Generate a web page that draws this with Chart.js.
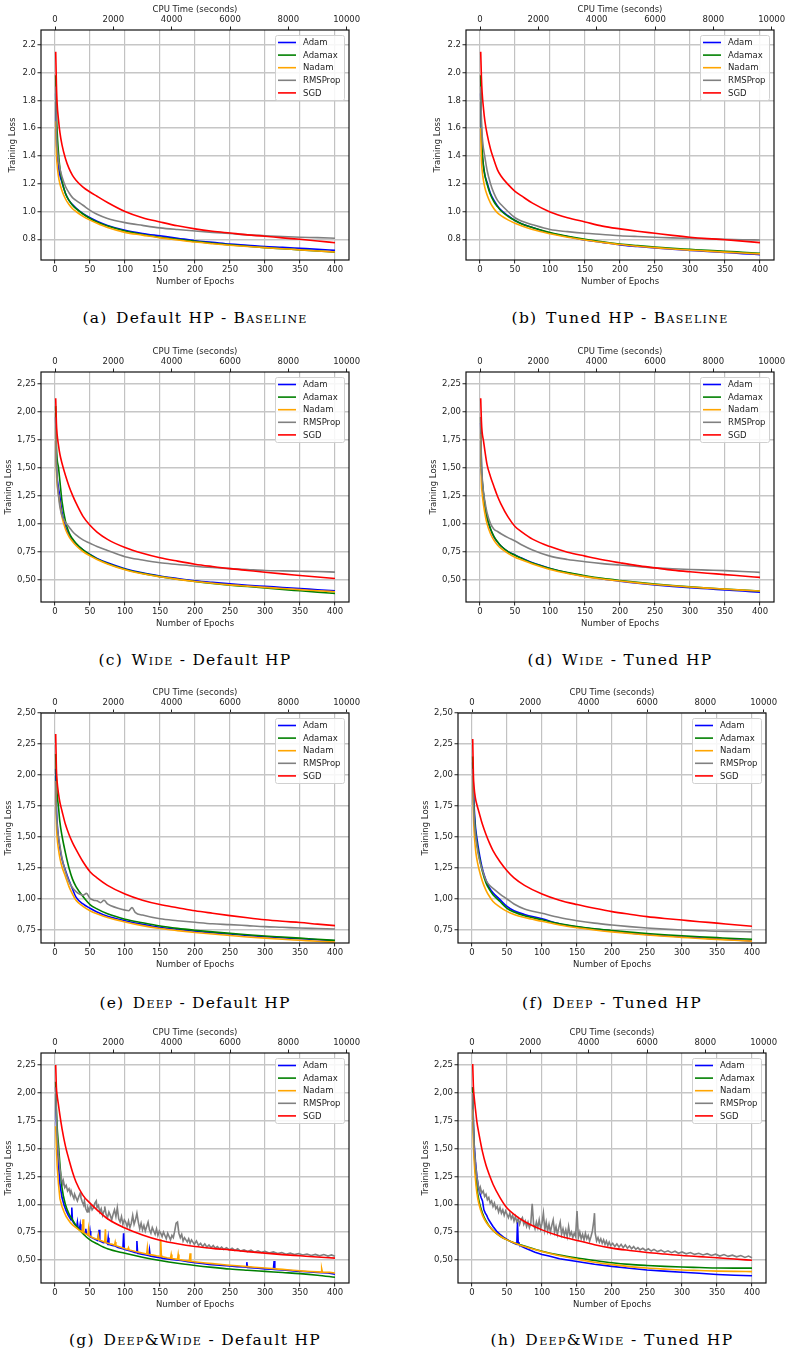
<!DOCTYPE html>
<html>
<head>
<meta charset="utf-8">
<title>Training loss per optimizer</title>
<script src="https://cdn.jsdelivr.net/npm/chart.js@4.4.1/dist/chart.umd.min.js"></script>
<style>
  html, body { margin: 0; padding: 0; background: #fff; }
  #page { position: relative; width: 787px; height: 1353px; overflow: hidden; background: #fff; }
  #page canvas { position: absolute; }
  .caption {
    position: absolute; white-space: nowrap; color: #000;
    font-family: "DejaVu Serif", "Liberation Serif", serif; font-size: 15.5px; line-height: 20px;
    transform: translateX(-50%);
  }
  .caption .lab { margin-right: 0.55em; }
  .caption .sc { font-variant: small-caps; }
</style>
</head>
<body>
<div id="page"></div>
<script>
// ---------- shared axes ----------
const EPOCHS = [1,2,3,5,7,10,15,20,25,30,40,50,60,75,100,125,150,175,200,225,250,275,300,325,350,375,400];
const EPOCH_TICKS = [0,50,100,150,200,250,300,350,400];
const CPU_TICKS = [0,2000,4000,6000,8000,10000];
const CPU_SECONDS_PER_EPOCH = 24;
const SERIES_NAMES = ['Adam','Adamax','Nadam','RMSProp','SGD'];
const SERIES_COLORS = ['#0000ff','#008000','#ffa500','#808080','#ff0000'];
const Y_LABELS_BASELINE = ['0.8','1.0','1.2','1.4','1.6','1.8','2.0','2.2'];
const Y_LABELS_WIDE = ['0,50','0,75','1,00','1,25','1,50','1,75','2,00','2,25'];
const Y_LABELS_DEEP = ['0,75','1,00','1,25','1,50','1,75','2,00','2,25','2,50'];

// ---------- (a) Default HP - Baseline ----------
const A_ADAM    = [1.85,1.52,1.42,1.32,1.26,1.21,1.13,1.08,1.05,1.025,0.985,0.955,0.93,0.90,0.865,0.842,0.825,0.808,0.79,0.778,0.765,0.757,0.748,0.742,0.735,0.728,0.72];
const A_ADAMAX  = [1.98,1.72,1.58,1.42,1.31,1.22,1.13,1.08,1.045,1.02,0.982,0.95,0.925,0.895,0.86,0.835,0.815,0.80,0.785,0.772,0.76,0.75,0.74,0.732,0.724,0.716,0.708];
const A_NADAM   = [1.65,1.42,1.34,1.25,1.20,1.15,1.09,1.05,1.02,1.00,0.965,0.938,0.915,0.885,0.85,0.83,0.81,0.795,0.78,0.768,0.757,0.748,0.74,0.732,0.724,0.716,0.709];
const A_RMSPROP = [1.90,1.58,1.47,1.37,1.31,1.25,1.18,1.135,1.10,1.08,1.045,1.008,0.98,0.95,0.92,0.90,0.882,0.87,0.86,0.85,0.842,0.832,0.826,0.82,0.815,0.812,0.808];
const A_SGD     = [2.15,1.92,1.78,1.66,1.57,1.48,1.38,1.31,1.26,1.225,1.175,1.14,1.11,1.065,1.00,0.955,0.925,0.897,0.875,0.858,0.845,0.832,0.822,0.81,0.80,0.788,0.775];

// ---------- (b) Tuned HP - Baseline ----------
const B_ADAM    = [1.85,1.55,1.42,1.32,1.26,1.21,1.13,1.08,1.04,1.01,0.97,0.935,0.91,0.885,0.845,0.82,0.795,0.778,0.76,0.748,0.737,0.728,0.72,0.712,0.705,0.697,0.69];
const B_ADAMAX  = [1.98,1.60,1.45,1.33,1.26,1.20,1.12,1.07,1.035,1.005,0.965,0.935,0.91,0.885,0.848,0.822,0.80,0.782,0.766,0.755,0.745,0.736,0.728,0.72,0.714,0.707,0.70];
const B_NADAM   = [1.60,1.38,1.30,1.22,1.17,1.12,1.06,1.02,0.99,0.97,0.94,0.915,0.895,0.87,0.84,0.815,0.795,0.778,0.762,0.75,0.74,0.73,0.722,0.715,0.708,0.701,0.695];
const B_RMSPROP = [1.90,1.65,1.55,1.45,1.39,1.30,1.20,1.13,1.08,1.05,1.00,0.955,0.93,0.905,0.87,0.855,0.843,0.835,0.826,0.82,0.815,0.81,0.807,0.804,0.80,0.797,0.795];
const B_SGD     = [2.15,1.97,1.86,1.74,1.65,1.56,1.45,1.37,1.30,1.255,1.195,1.145,1.11,1.06,0.997,0.955,0.925,0.895,0.875,0.858,0.843,0.828,0.815,0.805,0.797,0.787,0.776];

// ---------- (c) Wide - Default HP ----------
const C_ADAM    = [1.95,1.55,1.42,1.32,1.24,1.10,0.97,0.90,0.855,0.82,0.765,0.725,0.69,0.65,0.598,0.56,0.532,0.51,0.49,0.475,0.462,0.45,0.44,0.43,0.42,0.41,0.40];
const C_ADAMAX  = [2.05,1.70,1.58,1.50,1.38,1.20,1.02,0.92,0.865,0.825,0.765,0.722,0.685,0.645,0.593,0.556,0.527,0.503,0.483,0.466,0.451,0.438,0.425,0.412,0.40,0.388,0.377];
const C_NADAM   = [1.85,1.48,1.36,1.26,1.18,1.06,0.95,0.885,0.84,0.805,0.75,0.712,0.68,0.64,0.588,0.552,0.525,0.502,0.483,0.467,0.453,0.442,0.431,0.421,0.411,0.401,0.392];
const C_RMSPROP = [1.95,1.55,1.40,1.25,1.15,1.07,1.01,0.97,0.93,0.90,0.855,0.825,0.795,0.76,0.705,0.675,0.65,0.635,0.62,0.608,0.598,0.59,0.582,0.578,0.575,0.572,0.567];
const C_SGD     = [2.12,1.90,1.80,1.70,1.62,1.54,1.43,1.335,1.255,1.185,1.065,0.985,0.925,0.86,0.787,0.735,0.695,0.665,0.638,0.617,0.598,0.582,0.566,0.551,0.537,0.523,0.51];

// ---------- (d) Wide - Tuned HP ----------
const D_ADAM    = [1.90,1.50,1.38,1.26,1.16,1.05,0.95,0.88,0.835,0.80,0.75,0.72,0.69,0.65,0.60,0.56,0.53,0.505,0.485,0.468,0.453,0.44,0.428,0.418,0.408,0.398,0.388];
const D_ADAMAX  = [1.95,1.52,1.40,1.27,1.17,1.06,0.955,0.885,0.838,0.80,0.75,0.718,0.688,0.648,0.60,0.563,0.535,0.511,0.492,0.475,0.46,0.447,0.435,0.425,0.416,0.407,0.398];
const D_NADAM   = [1.80,1.38,1.28,1.17,1.09,1.00,0.91,0.85,0.81,0.78,0.735,0.70,0.675,0.64,0.59,0.555,0.527,0.505,0.487,0.471,0.457,0.445,0.434,0.424,0.415,0.406,0.398];
const D_RMSPROP = [1.95,1.55,1.42,1.28,1.20,1.10,1.00,0.95,0.93,0.91,0.875,0.845,0.81,0.765,0.71,0.68,0.66,0.643,0.63,0.617,0.605,0.597,0.59,0.585,0.58,0.573,0.565];
const D_SGD     = [2.12,1.92,1.82,1.74,1.65,1.53,1.42,1.33,1.245,1.175,1.06,0.975,0.925,0.862,0.795,0.745,0.71,0.677,0.65,0.625,0.605,0.585,0.57,0.557,0.545,0.532,0.52];

// ---------- (e) Deep - Default HP ----------
const E_ADAM    = [2.05,1.75,1.62,1.49,1.41,1.32,1.23,1.15,1.08,1.015,0.96,0.925,0.895,0.86,0.825,0.795,0.77,0.755,0.74,0.728,0.717,0.706,0.696,0.687,0.679,0.671,0.663];
const E_ADAMAX  = [2.17,1.95,1.85,1.74,1.62,1.51,1.37,1.25,1.16,1.10,1.02,0.955,0.92,0.88,0.837,0.808,0.782,0.763,0.748,0.735,0.723,0.712,0.702,0.693,0.684,0.675,0.666];
const E_NADAM   = [1.95,1.62,1.50,1.40,1.33,1.26,1.18,1.10,1.04,0.99,0.94,0.905,0.88,0.85,0.815,0.785,0.762,0.745,0.73,0.717,0.705,0.694,0.684,0.675,0.667,0.659,0.652];
const E_RMSPROP_EPOCHS = [1,2,3,5,7,10,15,20,25,30,35,40,45,50,55,60,65,70,75,80,90,100,105,110,115,125,150,175,200,225,250,275,300,325,350,375,400];
const E_RMSPROP = [1.95,1.70,1.60,1.50,1.43,1.33,1.22,1.14,1.09,1.06,1.04,1.03,1.045,1.005,0.99,0.985,0.97,0.99,0.96,0.945,0.925,0.91,0.905,0.93,0.89,0.87,0.84,0.825,0.812,0.80,0.793,0.785,0.777,0.772,0.766,0.762,0.758];
const E_SGD     = [2.33,2.05,1.95,1.85,1.78,1.71,1.60,1.52,1.455,1.40,1.30,1.22,1.17,1.11,1.04,0.99,0.955,0.93,0.905,0.885,0.866,0.848,0.832,0.82,0.81,0.797,0.785];

// ---------- (f) Deep - Tuned HP ----------
const F_ADAM    = [2.10,1.90,1.75,1.58,1.49,1.38,1.24,1.15,1.09,1.05,0.995,0.94,0.905,0.875,0.84,0.80,0.775,0.757,0.742,0.727,0.714,0.704,0.695,0.687,0.678,0.67,0.662];
const F_ADAMAX  = [2.15,1.85,1.70,1.54,1.45,1.35,1.22,1.13,1.075,1.035,0.98,0.925,0.895,0.865,0.832,0.80,0.778,0.76,0.746,0.733,0.722,0.712,0.703,0.695,0.688,0.681,0.675];
const F_NADAM   = [2.00,1.70,1.55,1.40,1.32,1.24,1.14,1.07,1.02,0.98,0.935,0.90,0.875,0.85,0.82,0.79,0.768,0.75,0.735,0.722,0.71,0.699,0.69,0.681,0.674,0.667,0.66];
const F_RMSPROP = [2.05,1.80,1.65,1.52,1.43,1.33,1.23,1.15,1.11,1.085,1.04,1.00,0.96,0.92,0.885,0.85,0.825,0.805,0.79,0.777,0.766,0.757,0.75,0.745,0.74,0.738,0.735];
const F_SGD     = [2.29,2.00,1.90,1.81,1.76,1.70,1.60,1.52,1.45,1.39,1.30,1.228,1.17,1.11,1.04,0.99,0.955,0.925,0.898,0.877,0.858,0.843,0.83,0.817,0.805,0.792,0.78];

// ---------- (g) Deep&Wide - Default HP ----------
const G_ADAM_EPOCHS = [1,2,3,5,7,10,13,16,19,22,23,24,25,28,31,32,33,35,36,37,41,43,44,45,49,50,51,56,61,63,64,69,73,75,76,77,82,86,90,94,97,98,99,105,110,114,116,117,118,124,130,134,135,136,145,151,152,153,160,170,180,190,200,210,220,230,240,250,260,270,273,274,275,290,300,310,312,313,314,330,345,360,375,390,400];
const G_ADAM = [2.05,1.75,1.55,1.35,1.18,1.06,0.99,0.94,0.90,0.87,0.86,0.97,0.85,0.82,0.80,0.84,0.79,0.78,0.82,0.77,0.75,0.745,0.78,0.735,0.715,0.76,0.705,0.69,0.675,0.77,0.67,0.655,0.66,0.645,0.70,0.64,0.63,0.625,0.612,0.605,0.60,0.74,0.595,0.585,0.575,0.568,0.565,0.67,0.56,0.552,0.545,0.54,0.59,0.535,0.525,0.518,0.54,0.515,0.51,0.503,0.495,0.485,0.475,0.468,0.46,0.455,0.45,0.445,0.44,0.436,0.434,0.48,0.433,0.426,0.42,0.417,0.415,0.49,0.414,0.408,0.40,0.394,0.388,0.383,0.372];
const G_ADAMAX = [2.10,1.85,1.70,1.53,1.36,1.15,0.995,0.915,0.86,0.81,0.735,0.68,0.645,0.60,0.56,0.525,0.495,0.47,0.45,0.433,0.418,0.407,0.397,0.387,0.377,0.363,0.345];
const G_NADAM_EPOCHS = [1,2,3,5,7,10,13,16,19,22,25,28,31,34,38,39,40,41,45,47,48,49,54,58,61,62,63,69,71,72,73,78,82,85,86,87,95,100,104,105,106,115,120,126,131,132,133,140,145,150,151,152,160,165,166,167,175,176,177,186,192,193,194,205,215,225,235,245,255,265,275,285,295,305,315,325,335,345,355,365,375,380,381,382,392,400];
const G_NADAM = [1.70,1.52,1.35,1.18,1.05,0.98,0.93,0.89,0.86,0.835,0.815,0.80,0.785,0.77,0.755,0.75,0.865,0.745,0.73,0.725,0.78,0.718,0.70,0.69,0.685,0.72,0.68,0.665,0.66,0.775,0.655,0.645,0.64,0.632,0.66,0.628,0.612,0.60,0.593,0.61,0.59,0.575,0.568,0.56,0.553,0.61,0.551,0.543,0.537,0.532,0.686,0.53,0.52,0.515,0.55,0.513,0.505,0.55,0.503,0.495,0.49,0.56,0.488,0.48,0.473,0.467,0.461,0.455,0.45,0.445,0.44,0.435,0.43,0.425,0.42,0.415,0.41,0.405,0.40,0.396,0.393,0.391,0.42,0.39,0.388,0.383];
const G_RMSPROP_EPOCHS = [1,2,3,5,7,9,11,12,14,16,18,20,22,23,25,27,28,30,32,34,36,37,39,41,42,44,46,47,49,51,53,55,57,59,60,62,64,66,68,70,71,73,75,77,79,81,83,85,87,89,91,93,95,97,99,101,103,105,107,109,111,113,115,117,119,121,123,125,127,129,131,133,135,137,139,141,143,145,147,149,151,153,155,157,159,161,163,165,167,169,171,173,175,177,179,181,183,185,187,189,191,193,195,197,199,202,205,208,211,214,217,220,223,226,229,232,235,238,241,245,249,253,257,261,265,270,275,280,285,290,295,300,306,312,318,324,330,336,342,348,354,360,366,372,378,384,390,395,400];
const G_RMSPROP = [2.05,1.80,1.62,1.45,1.32,1.24,1.18,1.21,1.15,1.17,1.12,1.14,1.09,1.12,1.08,1.05,1.09,1.06,1.03,1.07,1.10,1.06,1.02,0.99,1.03,0.96,0.93,0.97,0.94,0.99,0.95,0.97,1.01,1.03,0.97,0.99,0.93,0.96,0.90,0.94,0.98,0.91,0.88,0.93,0.90,0.86,0.91,0.95,0.89,0.97,0.87,0.84,0.89,0.82,0.86,0.84,0.80,0.85,0.79,0.83,0.90,0.82,0.86,0.92,0.84,0.78,0.83,0.77,0.81,0.76,0.80,0.84,0.77,0.74,0.79,0.76,0.73,0.78,0.72,0.76,0.74,0.71,0.75,0.72,0.69,0.74,0.71,0.68,0.72,0.70,0.76,0.83,0.84,0.74,0.70,0.73,0.67,0.70,0.68,0.66,0.69,0.65,0.68,0.66,0.64,0.67,0.63,0.65,0.62,0.645,0.615,0.635,0.61,0.63,0.605,0.62,0.60,0.615,0.595,0.61,0.59,0.605,0.585,0.60,0.58,0.59,0.575,0.588,0.57,0.582,0.568,0.578,0.562,0.572,0.558,0.566,0.552,0.562,0.548,0.558,0.545,0.553,0.54,0.55,0.537,0.548,0.535,0.545,0.533];
const G_SGD = [2.25,2.05,1.98,1.89,1.80,1.68,1.52,1.40,1.29,1.20,1.08,1.01,0.95,0.87,0.786,0.725,0.677,0.645,0.621,0.604,0.59,0.575,0.561,0.548,0.537,0.526,0.516];

// ---------- (h) Deep&Wide - Tuned HP ----------
const H_ADAM_EPOCHS = [1,2,3,5,7,9,11,13,15,17,19,21,23,25,30,35,40,45,50,55,60,64,65,66,67,70,75,80,90,100,110,125,150,175,200,225,250,275,300,325,350,375,400];
const H_ADAM = [2.05,1.72,1.55,1.38,1.25,1.16,1.10,1.06,1.03,0.95,0.92,0.90,0.87,0.85,0.80,0.76,0.73,0.705,0.685,0.665,0.65,0.64,0.84,0.66,0.645,0.625,0.61,0.595,0.57,0.548,0.535,0.51,0.486,0.462,0.442,0.425,0.41,0.40,0.39,0.38,0.37,0.363,0.358];
const H_ADAMAX = [2.05,1.70,1.50,1.30,1.15,1.03,0.92,0.85,0.80,0.765,0.715,0.68,0.655,0.625,0.578,0.543,0.517,0.495,0.475,0.46,0.45,0.442,0.436,0.432,0.428,0.427,0.427];
const H_NADAM = [1.85,1.55,1.40,1.22,1.10,1.00,0.90,0.84,0.80,0.765,0.715,0.68,0.655,0.62,0.575,0.537,0.507,0.48,0.458,0.44,0.427,0.418,0.41,0.405,0.40,0.397,0.395];
const H_RMSPROP_EPOCHS = [1,2,3,5,7,9,11,12,14,16,18,20,22,24,26,28,30,32,34,36,38,40,42,44,46,48,50,52,54,56,58,60,62,64,66,68,70,72,74,76,78,80,82,84,86,88,90,92,94,96,98,100,102,104,106,108,110,112,114,116,118,120,122,124,126,128,130,132,134,136,138,140,142,144,146,148,150,152,154,156,158,160,162,164,166,168,170,172,174,175,176,178,180,182,184,186,188,190,192,194,196,198,201,204,207,210,213,216,219,222,225,228,231,234,237,240,244,248,252,256,260,265,270,275,280,285,290,295,300,306,312,318,324,330,336,342,348,354,360,366,372,378,384,390,395,400];
const H_RMSPROP = [2.00,1.72,1.52,1.36,1.24,1.17,1.12,1.15,1.10,1.12,1.07,1.09,1.04,1.06,1.01,1.03,0.98,1.01,0.96,0.98,0.93,0.97,0.92,0.95,0.90,0.94,0.91,0.88,0.92,0.87,0.90,0.85,0.89,0.84,0.87,0.82,0.86,0.88,0.82,0.85,0.80,0.84,0.79,0.83,1.005,0.82,0.78,0.84,0.79,0.86,0.78,0.83,0.92,0.77,0.84,0.76,0.82,0.75,0.81,0.86,0.75,0.80,0.73,0.79,0.84,0.73,0.78,0.72,0.77,0.71,0.80,0.72,0.75,0.70,0.74,0.71,0.94,0.70,0.75,0.69,0.73,0.68,0.74,0.69,0.72,0.67,0.71,0.76,0.85,0.92,0.74,0.67,0.70,0.66,0.69,0.65,0.68,0.64,0.67,0.63,0.66,0.63,0.65,0.62,0.645,0.615,0.64,0.61,0.635,0.605,0.625,0.60,0.62,0.595,0.61,0.59,0.605,0.585,0.60,0.58,0.595,0.575,0.588,0.57,0.582,0.565,0.578,0.56,0.572,0.555,0.566,0.55,0.56,0.545,0.556,0.54,0.552,0.535,0.548,0.532,0.543,0.528,0.54,0.522,0.535,0.52];
const H_SGD = [2.26,2.05,1.97,1.85,1.74,1.63,1.47,1.35,1.26,1.18,1.06,0.966,0.91,0.845,0.77,0.715,0.675,0.637,0.606,0.585,0.567,0.553,0.54,0.53,0.52,0.508,0.497];

// ---------- panel table (series order: Adam, Adamax, Nadam, RMSProp, SGD) ----------
const PANELS = [
  { tag:'(a)', text:['Default HP - ','Baseline',''], box:[41,30], y:[0.651,2.306], yLabels:Y_LABELS_BASELINE, yTitlePad:7.9, capY:318, capW:225,
    series:[[EPOCHS,A_ADAM],[EPOCHS,A_ADAMAX],[EPOCHS,A_NADAM],[EPOCHS,A_RMSPROP],[EPOCHS,A_SGD]] },
  { tag:'(b)', text:['Tuned HP - ','Baseline',''], box:[466,30], y:[0.651,2.306], yLabels:Y_LABELS_BASELINE, yTitlePad:7.9, capY:318, capW:217,
    series:[[EPOCHS,B_ADAM],[EPOCHS,B_ADAMAX],[EPOCHS,B_NADAM],[EPOCHS,B_RMSPROP],[EPOCHS,B_SGD]] },
  { tag:'(c)', text:['','Wide',' - Default HP'], box:[41,372], y:[0.30,2.355], yLabels:Y_LABELS_WIDE, yTitlePad:3.4, capY:660, capW:193,
    series:[[EPOCHS,C_ADAM],[EPOCHS,C_ADAMAX],[EPOCHS,C_NADAM],[EPOCHS,C_RMSPROP],[EPOCHS,C_SGD]] },
  { tag:'(d)', text:['','Wide',' - Tuned HP'], box:[466,372], y:[0.30,2.355], yLabels:Y_LABELS_WIDE, yTitlePad:3.4, capY:660, capW:185,
    series:[[EPOCHS,D_ADAM],[EPOCHS,D_ADAMAX],[EPOCHS,D_NADAM],[EPOCHS,D_RMSPROP],[EPOCHS,D_SGD]] },
  { tag:'(e)', text:['','Deep',' - Default HP'], box:[41,713], y:[0.645,2.50], yLabels:Y_LABELS_DEEP, yTitlePad:3.4, capY:1003, capW:191,
    series:[[EPOCHS,E_ADAM],[EPOCHS,E_ADAMAX],[EPOCHS,E_NADAM],[E_RMSPROP_EPOCHS,E_RMSPROP],[EPOCHS,E_SGD]] },
  { tag:'(f)', text:['','Deep',' - Tuned HP'], box:[458,713], y:[0.645,2.50], yLabels:Y_LABELS_DEEP, yTitlePad:3.4, capY:1003, capW:180,
    series:[[EPOCHS,F_ADAM],[EPOCHS,F_ADAMAX],[EPOCHS,F_NADAM],[EPOCHS,F_RMSPROP],[EPOCHS,F_SGD]] },
  { tag:'(g)', text:['','Deep&Wide',' - Default HP'], box:[41,1053], y:[0.293,2.358], yLabels:Y_LABELS_WIDE, yTitlePad:3.4, capY:1340, capW:252,
    series:[[G_ADAM_EPOCHS,G_ADAM,true],[EPOCHS,G_ADAMAX],[G_NADAM_EPOCHS,G_NADAM,true],[G_RMSPROP_EPOCHS,G_RMSPROP,true],[EPOCHS,G_SGD]] },
  { tag:'(h)', text:['','Deep&Wide',' - Tuned HP'], box:[458,1053], y:[0.293,2.358], yLabels:Y_LABELS_WIDE, yTitlePad:3.4, capY:1340, capW:243,
    series:[[H_ADAM_EPOCHS,H_ADAM,true],[EPOCHS,H_ADAMAX],[EPOCHS,H_NADAM],[H_RMSPROP_EPOCHS,H_RMSPROP,true],[EPOCHS,H_SGD]] }
];

// ---------- layout constants ----------
const AXIS_W = 41, BOX_W = 308, BOX_H = 230, PAD_R = 14, TOP_H = 25, BOT_H = 27;
const FONT = { family: 'DejaVu Sans', size: 8.5 };
const TEXT_COLOR = '#1e1e1e';

Chart.defaults.font.family = 'DejaVu Sans';
Chart.defaults.color = TEXT_COLOR;

// axes frame drawn over the lines, like plot spines
const framePlugin = {
  id: 'frame',
  afterDatasetsDraw(chart) {
    const { ctx, chartArea: a } = chart;
    ctx.save();
    ctx.strokeStyle = '#111';
    ctx.lineWidth = 1.2;
    ctx.strokeRect(a.left, a.top, a.right - a.left, a.bottom - a.top);
    ctx.restore();
  }
};

// legend box in the upper right corner of the plot area
const insetLegendPlugin = {
  id: 'insetLegend',
  afterDraw(chart) {
    const { ctx, chartArea: a } = chart;
    const w = 69, h = 65, x = a.right - 5 - w, y = a.top + 5;
    ctx.save();
    ctx.beginPath();
    ctx.roundRect(x + 0.5, y + 0.5, w, h, 2);
    ctx.fillStyle = 'rgba(255,255,255,0.85)';
    ctx.fill();
    ctx.strokeStyle = '#d0d0d0';
    ctx.lineWidth = 1;
    ctx.stroke();
    ctx.font = `${FONT.size}px "DejaVu Sans"`;
    ctx.textBaseline = 'middle';
    chart.data.datasets.forEach((ds, i) => {
      const cy = y + 7.5 + 12.6 * i;
      ctx.beginPath();
      ctx.moveTo(x + 3, cy);
      ctx.lineTo(x + 21, cy);
      ctx.strokeStyle = ds.borderColor;
      ctx.lineWidth = 1.6;
      ctx.stroke();
      ctx.fillStyle = TEXT_COLOR;
      ctx.fillText(ds.label, x + 28, cy + 0.5);
    });
    ctx.restore();
  }
};

const page = document.getElementById('page');

function buildPanel(p) {
  const canvas = document.createElement('canvas');
  canvas.width = AXIS_W + BOX_W + PAD_R;
  canvas.height = TOP_H + BOX_H + BOT_H;
  canvas.style.left = (p.box[0] - AXIS_W) + 'px';
  canvas.style.top = (p.box[1] - TOP_H) + 'px';
  page.appendChild(canvas);

  const yValues = p.yLabels.map(s => parseFloat(s.replace(',', '.')));

  const datasets = p.series.map(([xs, ys, noisy], i) => ({
    label: SERIES_NAMES[i],
    data: ys.map((v, k) => ({ x: xs[k], y: v })),
    borderColor: SERIES_COLORS[i],
    backgroundColor: SERIES_COLORS[i],
    borderWidth: 1.6,
    pointRadius: 0,
    fill: false,
    tension: 0,
    cubicInterpolationMode: noisy ? 'default' : 'monotone',
    order: SERIES_NAMES.length - 1 - i
  }));

  new Chart(canvas, {
    type: 'line',
    data: { datasets },
    plugins: [framePlugin, insetLegendPlugin],
    options: {
      responsive: false,
      animation: false,
      devicePixelRatio: 1,
      events: [],
      layout: { padding: { left: 0, top: 0, right: PAD_R, bottom: 0 } },
      plugins: { legend: { display: false }, tooltip: { enabled: false } },
      scales: {
        x: {
          type: 'linear', position: 'bottom', min: -20, max: 420,
          afterBuildTicks: s => { s.ticks = EPOCH_TICKS.map(v => ({ value: v })); },
          afterFit: s => { s.height = BOT_H; },
          ticks: { font: FONT, color: TEXT_COLOR, padding: 1.5, autoSkip: false, maxRotation: 0,
                   callback: v => String(v) },
          grid: { color: '#c2c2c2', lineWidth: 1.2, drawTicks: true, tickLength: 3.5,
                  tickColor: '#222', tickWidth: 1 },
          border: { display: false },
          title: { display: true, text: 'Number of Epochs', font: FONT, color: TEXT_COLOR,
                   padding: { top: 0, bottom: 0 } }
        },
        xTop: {
          type: 'linear', position: 'top',
          min: -20 * CPU_SECONDS_PER_EPOCH, max: 420 * CPU_SECONDS_PER_EPOCH,
          afterBuildTicks: s => { s.ticks = CPU_TICKS.map(v => ({ value: v })); },
          afterFit: s => { s.height = TOP_H; },
          ticks: { font: FONT, color: TEXT_COLOR, padding: 1.5, autoSkip: false, maxRotation: 0,
                   callback: v => String(v) },
          grid: { drawOnChartArea: false, drawTicks: true, tickLength: 3.5,
                  tickColor: '#222', tickWidth: 1 },
          border: { display: false },
          title: { display: true, text: 'CPU Time (seconds)', font: FONT, color: TEXT_COLOR,
                   padding: { top: 0, bottom: 0 } }
        },
        y: {
          type: 'linear', position: 'left', min: p.y[0], max: p.y[1],
          afterBuildTicks: s => { s.ticks = yValues.map(v => ({ value: v })); },
          afterFit: s => { s.width = AXIS_W; },
          ticks: { font: FONT, color: TEXT_COLOR, padding: 1.5, autoSkip: false,
                   callback: (v, i) => p.yLabels[i] },
          grid: { color: '#c6c6c6', lineWidth: 1.5, drawTicks: true, tickLength: 3.5,
                  tickColor: '#222', tickWidth: 1 },
          border: { display: false },
          title: { display: true, text: 'Training Loss', font: FONT, color: TEXT_COLOR,
                   padding: { top: p.yTitlePad, bottom: 0 } }
        }
      }
    }
  });

  // sub-figure caption under the plot box
  const cap = document.createElement('div');
  cap.className = 'caption';
  cap.style.left = (p.box[0] + BOX_W / 2) + 'px';
  cap.style.top = (p.capY - 10) + 'px';
  const lab = document.createElement('span');
  lab.className = 'lab';
  lab.textContent = p.tag;
  cap.appendChild(lab);
  cap.appendChild(document.createTextNode(p.text[0]));
  const sc = document.createElement('span');
  sc.className = 'sc';
  sc.textContent = p.text[1];
  cap.appendChild(sc);
  cap.appendChild(document.createTextNode(p.text[2]));
  page.appendChild(cap);
  return cap;
}

const captions = PANELS.map(p => ({ el: buildPanel(p), w: p.capW }));

function fitCaptions() {
  captions.forEach(({ el, w }) => {
    el.style.letterSpacing = '0px';
    const natural = el.getBoundingClientRect().width;
    const n = el.textContent.length;
    el.style.letterSpacing = ((w - natural) / n).toFixed(2) + 'px';
  });
}
fitCaptions();
if (document.fonts && document.fonts.ready) document.fonts.ready.then(fitCaptions);
</script>
</body>
</html>
